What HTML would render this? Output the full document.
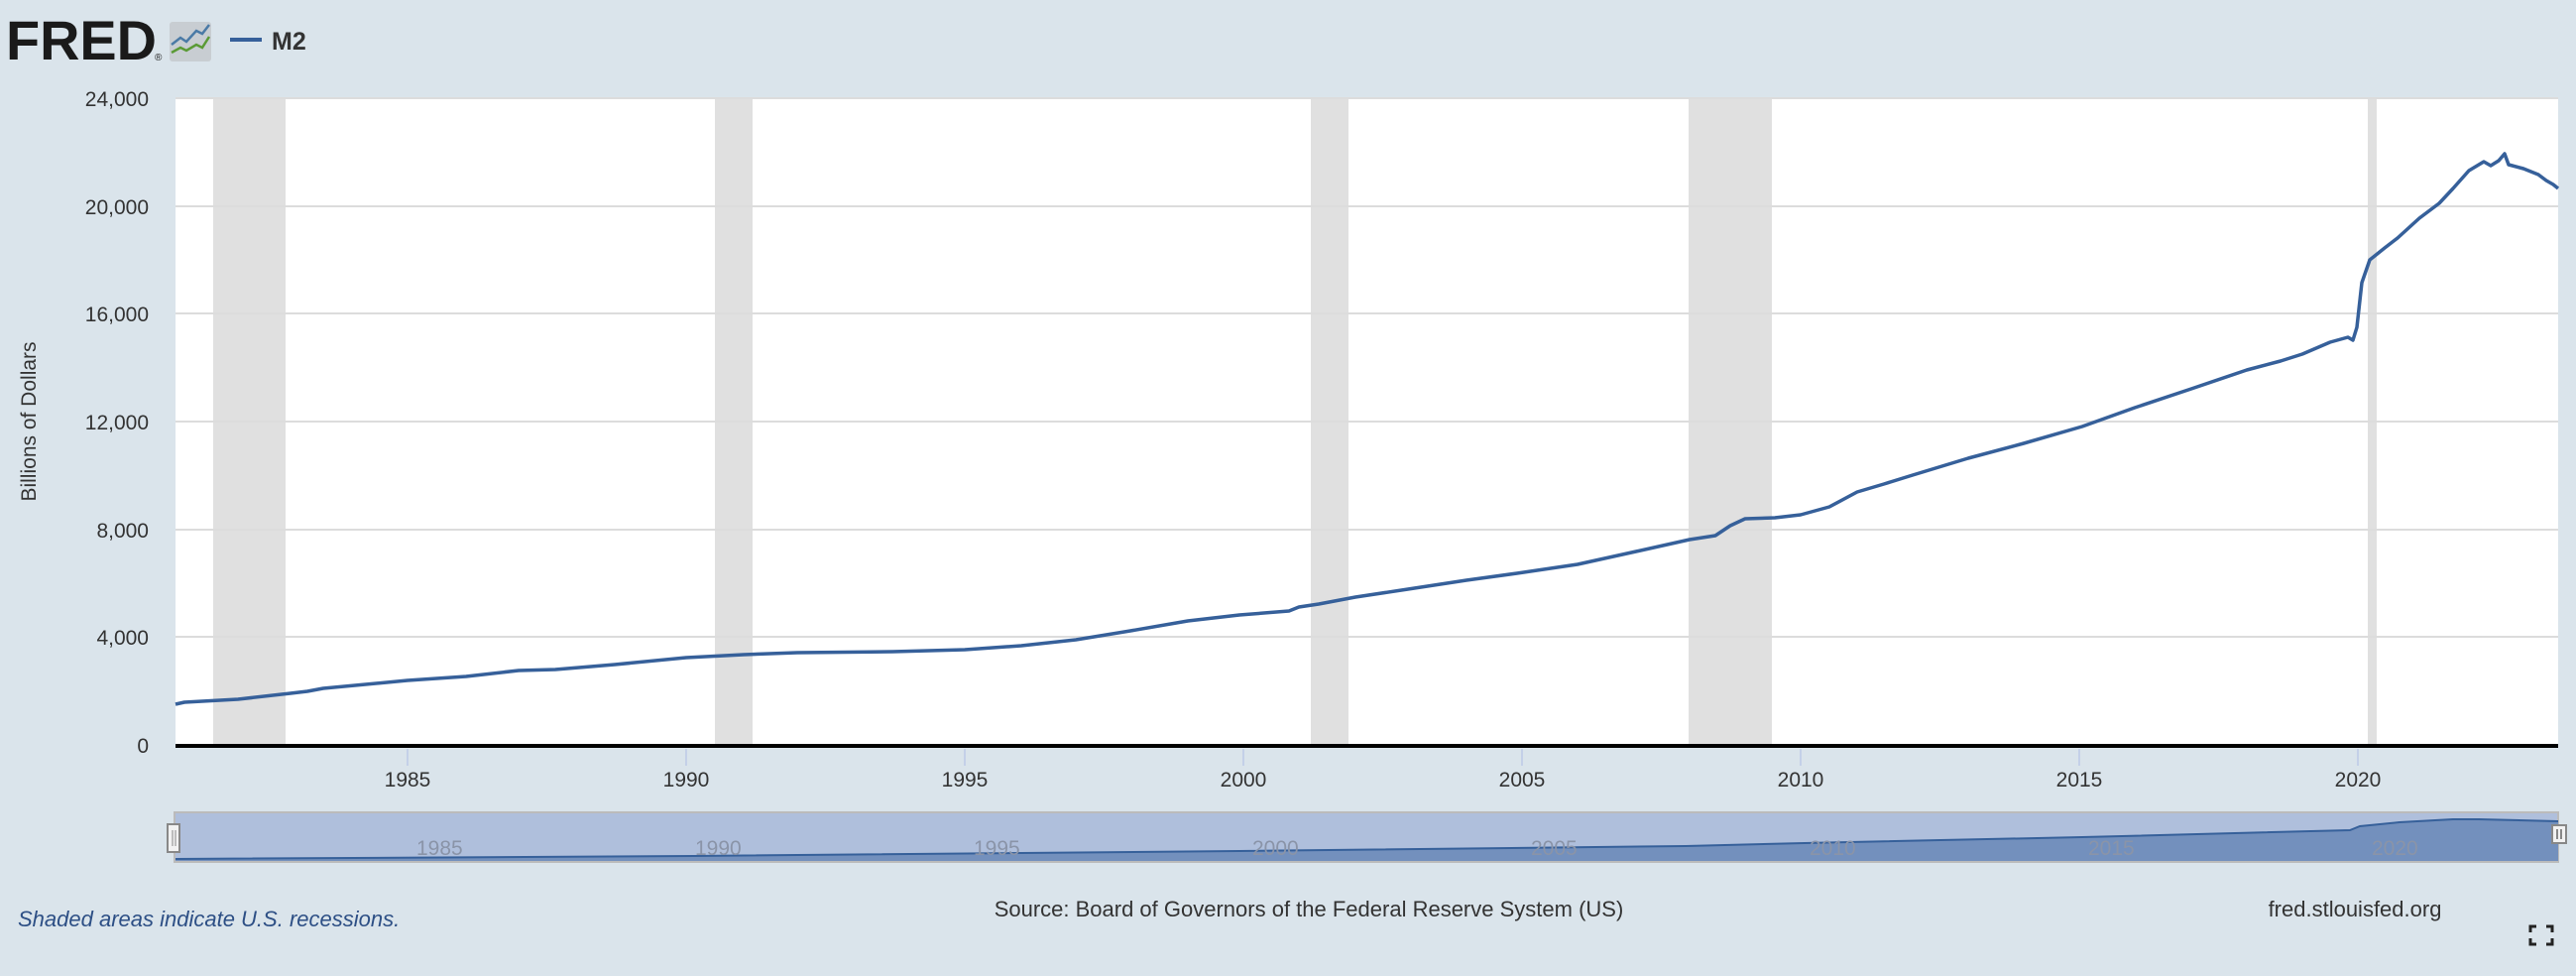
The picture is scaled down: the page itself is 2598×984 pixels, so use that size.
<!DOCTYPE html>
<html><head><meta charset="utf-8"><style>
html,body{margin:0;padding:0;width:2598px;height:984px;background:#dae4eb;overflow:hidden;font-family:"Liberation Sans",sans-serif;}
</style></head><body>
<svg width="2598" height="984" xmlns="http://www.w3.org/2000/svg" style="position:absolute;left:0;top:0">
<rect x="0" y="0" width="2598" height="984" fill="#dae4eb"/>
<!-- header -->
<text x="6" y="60" font-family="Liberation Sans" font-weight="bold" font-size="56" fill="#1a1a1a" textLength="152" lengthAdjust="spacingAndGlyphs">FRED</text>
<text x="156" y="61" font-size="10" fill="#1a1a1a">®</text>
<rect x="171" y="22" width="42" height="40" rx="3" fill="#c8cdd2"/>
<polyline points="173,45 182,38 188,42 198,31 204,34 211,25" fill="none" stroke="#4a7aa6" stroke-width="2.5"/>
<polyline points="173,53 182,48 188,51 198,45 204,48 211,37" fill="none" stroke="#5a9a35" stroke-width="2.5"/>
<line x1="232" y1="40" x2="264" y2="40" stroke="#36609a" stroke-width="4"/>
<text x="274" y="50" font-weight="bold" font-size="25" fill="#333">M2</text>
<!-- plot -->
<rect x="177" y="99" width="2403" height="652" fill="#fff"/>
<g fill="#e0e0e0">
<rect x="215" y="99" width="73" height="652"/>
<rect x="721" y="99" width="38" height="652"/>
<rect x="1322" y="99" width="38" height="652"/>
<rect x="1703" y="99" width="84" height="652"/>
<rect x="2388" y="99" width="9" height="652"/>
</g>
<g stroke="#dcdcdc" stroke-width="2">
<line x1="177" y1="99" x2="2580" y2="99"/><line x1="177" y1="208" x2="2580" y2="208"/>
<line x1="177" y1="316" x2="2580" y2="316"/><line x1="177" y1="425" x2="2580" y2="425"/>
<line x1="177" y1="534" x2="2580" y2="534"/><line x1="177" y1="642" x2="2580" y2="642"/>
</g>
<g font-size="21" fill="#333" text-anchor="end">
<text x="150" y="107">24,000</text><text x="150" y="216">20,000</text><text x="150" y="324">16,000</text>
<text x="150" y="433">12,000</text><text x="150" y="542">8,000</text><text x="150" y="650">4,000</text><text x="150" y="759">0</text>
</g>
<text transform="translate(36,425) rotate(-90)" font-size="21" fill="#333" text-anchor="middle">Billions of Dollars</text>
<polyline fill="none" stroke="#36609a" stroke-width="3.5" stroke-linejoin="round" points="177,710 186,708 240,705 293,699 310,697 326,694 411,686 470,682 523,676 560,675 620,670 692,663 750,660 804,658 900,657 973,655 1030,651 1085,645 1140,636 1198,626 1250,620 1300,616 1310,612 1330,609 1367,602 1420,594 1479,585 1530,578 1591,569 1650,556 1704,544 1730,540 1745,530 1760,523 1790,522 1816,519 1845,511 1873,496 1900,488 1929,479 1985,462 2041,447 2100,430 2153,411 2210,392 2266,373 2300,364 2322,357 2350,345 2368,340 2373,343 2377,330 2382,285 2390,262 2405,250 2418,240 2440,220 2460,205 2474,190 2490,172 2505,163 2512,167 2520,162 2526,155 2530,166 2545,170 2560,176 2568,182 2575,186 2580,190"/>
<line x1="177" y1="752" x2="2580" y2="752" stroke="#000" stroke-width="4"/>
<g stroke="#c4d0e8" stroke-width="2">
<line x1="411" y1="755" x2="411" y2="772"/><line x1="692" y1="755" x2="692" y2="772"/><line x1="973" y1="755" x2="973" y2="772"/>
<line x1="1254" y1="755" x2="1254" y2="772"/><line x1="1535" y1="755" x2="1535" y2="772"/><line x1="1816" y1="755" x2="1816" y2="772"/>
<line x1="2097" y1="755" x2="2097" y2="772"/><line x1="2378" y1="755" x2="2378" y2="772"/>
</g>
<g font-size="21" fill="#333" text-anchor="middle">
<text x="411" y="793">1985</text><text x="692" y="793">1990</text><text x="973" y="793">1995</text><text x="1254" y="793">2000</text>
<text x="1535" y="793">2005</text><text x="1816" y="793">2010</text><text x="2097" y="793">2015</text><text x="2378" y="793">2020</text>
</g>
<!-- navigator -->
<rect x="176" y="819" width="2404" height="50" fill="#afbfdc" stroke="#bbb" stroke-width="2"/>
<polygon fill="#7390bd" points="177,866 700,863 1250,858 1700,853 1820,850 2100,844 2370,837 2380,833 2420,829 2474,826 2500,826 2580,828 2580,868 177,868"/>
<polyline fill="none" stroke="#36609a" stroke-width="2" points="177,866 700,863 1250,858 1700,853 1820,850 2100,844 2370,837 2380,833 2420,829 2474,826 2500,826 2580,828"/>
<g font-size="21" fill="#8a94a8">
<text x="420" y="862">1985</text><text x="701" y="862">1990</text><text x="982" y="862">1995</text><text x="1263" y="862">2000</text>
<text x="1544" y="862">2005</text><text x="1825" y="862">2010</text><text x="2106" y="862">2015</text><text x="2392" y="862">2020</text>
</g>
<rect x="169" y="831" width="12" height="28" fill="#f2f2f2" stroke="#888" stroke-width="2"/>
<line x1="174" y1="837" x2="174" y2="853" stroke="#888"/><line x1="177" y1="837" x2="177" y2="853" stroke="#888"/>
<rect x="2574" y="832" width="14" height="18" fill="#f2f2f2" stroke="#888" stroke-width="2"/>
<line x1="2579" y1="836" x2="2579" y2="846" stroke="#888" stroke-width="2"/><line x1="2583" y1="836" x2="2583" y2="846" stroke="#888" stroke-width="2"/>
<!-- footer -->
<text x="18" y="934" font-size="22" font-style="italic" fill="#2d4f85">Shaded areas indicate U.S. recessions.</text>
<text x="1320" y="924" font-size="22" fill="#333" text-anchor="middle">Source: Board of Governors of the Federal Reserve System (US)</text>
<text x="2375" y="924" font-size="22" fill="#333" text-anchor="middle">fred.stlouisfed.org</text>
<g stroke="#222" stroke-width="3" fill="none">
<polyline points="2552,940 2552,934 2558,934"/><polyline points="2568,934 2574,934 2574,940"/>
<polyline points="2552,946 2552,952 2558,952"/><polyline points="2568,952 2574,952 2574,946"/>
</g>
</svg>
</body></html>
